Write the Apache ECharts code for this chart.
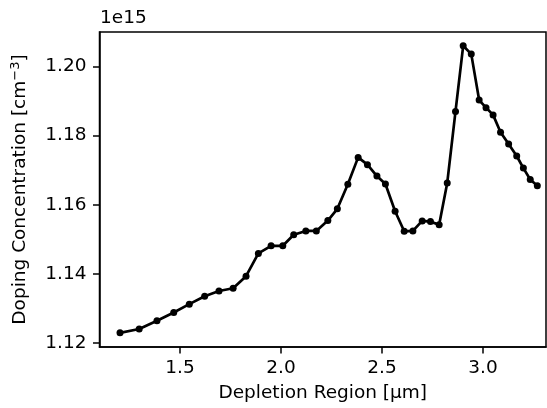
<!DOCTYPE html>
<html>
<head>
<meta charset="utf-8">
<script src="https://cdn.jsdelivr.net/npm/echarts@6/dist/echarts.min.js"></script>
<style>html,body{margin:0;padding:0;background:#fff}#c{width:547px;height:408px}</style>
</head>
<body>
<div id="c"></div>
<script>
// Depletion region depth [µm]
const depth = [1.203, 1.298, 1.386, 1.469, 1.546, 1.622, 1.693, 1.763, 1.827, 1.888,
  1.951, 2.009, 2.063, 2.123, 2.175, 2.232, 2.279, 2.331, 2.382, 2.428,
  2.475, 2.517, 2.565, 2.610, 2.653, 2.699, 2.740, 2.783, 2.823, 2.864,
  2.902, 2.942, 2.981, 3.015, 3.050, 3.087, 3.127, 3.167, 3.200, 3.234, 3.269];
// Doping concentration [x1e15 cm^-3]
const doping = [1.1229, 1.1240, 1.1264, 1.1288, 1.1312, 1.1335, 1.1350, 1.1358, 1.1393, 1.1459,
  1.1481, 1.1481, 1.1513, 1.1524, 1.1524, 1.1554, 1.1588, 1.1659, 1.1737, 1.1716,
  1.1683, 1.1660, 1.1581, 1.1523, 1.1524, 1.1553, 1.1551, 1.1542, 1.1663, 1.1870,
  1.2060, 1.2036, 1.1903, 1.1881, 1.1860, 1.1810, 1.1776, 1.1741, 1.1706, 1.1673, 1.1655];
const xTicks = [1.5, 2.0, 2.5, 3.0];
const yTicks = [1.12, 1.14, 1.16, 1.18, 1.20];
const xRange = [1.1015, 3.312];
const yRange = [1.1188, 1.2100];

const font = "'DejaVu Sans', sans-serif";
const fs = 18.5;
const chart = echarts.init(document.getElementById('c'), null, {renderer: 'canvas'});
chart.setOption({
  animation: false,
  backgroundColor: '#fff',
  grid: {left: 99.5, right: 1, top: 32, bottom: 58, show: true, borderColor: '#000', borderWidth: 1.5, backgroundColor: 'transparent'},
  xAxis: {
    type: 'value', min: xRange[0], max: xRange[1],
    splitLine: {show: false},
    axisLine: {show: true, onZero: false, lineStyle: {color: '#000', width: 1.5}},
    axisTick: {show: true, customValues: xTicks, length: 6.5, lineStyle: {color: '#000', width: 1.5}},
    axisLabel: {customValues: xTicks, color: '#000', fontSize: fs, fontFamily: font, margin: 12,
      formatter: v => v.toFixed(1)},
    name: 'Depletion Region [μm]', nameLocation: 'middle', nameGap: 37,
    nameTextStyle: {color: '#000', fontSize: fs, fontFamily: font}
  },
  yAxis: {
    type: 'value', min: yRange[0], max: yRange[1],
    splitLine: {show: false},
    axisLine: {show: true, onZero: false, lineStyle: {color: '#000', width: 1.5}},
    axisTick: {show: true, customValues: yTicks, length: 6.5, lineStyle: {color: '#000', width: 1.5}},
    axisLabel: {customValues: yTicks, color: '#000', fontSize: fs, fontFamily: font, margin: 13,
      formatter: v => v.toFixed(2)},
    name: 'Doping Concentration [cm{sup|−3}]', nameLocation: 'middle', nameGap: 68,
    nameTextStyle: {color: '#000', fontSize: fs, fontFamily: font,
      rich: {sup: {fontSize: 13, fontFamily: font, color: '#000', verticalAlign: 'top', padding: [0,0,9,0]}}}
  },
  graphic: [{type: 'text', left: 100, top: 9, style: {text: '1e15', fill: '#000', font: fs + 'px ' + font}}],
  series: [{
    type: 'line',
    data: depth.map((d, i) => [d, doping[i]]),
    lineStyle: {color: '#000', width: 2.7},
    itemStyle: {color: '#000'},
    symbol: 'circle', symbolSize: 7, showSymbol: true
  }]
});
</script>
</body>
</html>
